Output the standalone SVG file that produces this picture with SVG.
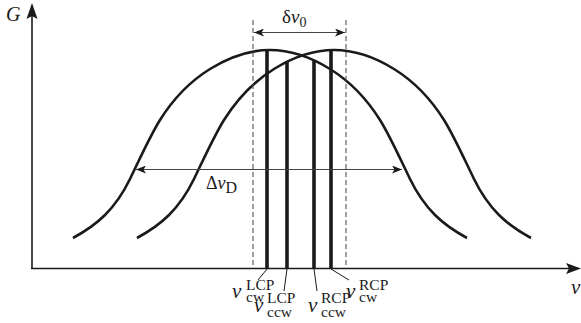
<svg xmlns="http://www.w3.org/2000/svg" width="581" height="323" viewBox="0 0 581 323">
<style>
.axis{stroke:#1a1a1a;stroke-width:1.6;fill:none}
.curve{stroke:#1a1a1a;stroke-width:2.6;fill:none}
.bar{stroke:#1a1a1a;stroke-width:3.6}
.dash{stroke:#555;stroke-width:1.1;stroke-dasharray:5,3;fill:none}
.dim{stroke:#444;stroke-width:1.1;fill:none}
.lead{stroke:#1a1a1a;stroke-width:1;fill:none}
.t{font-family:"Liberation Serif","Times New Roman",serif;fill:#1a1a1a}
.it{font-style:italic}
.nu{font-style:italic;font-size:21px}
.sc{font-size:15.5px}
</style>
<defs>
<path id="gauss" d="M -197 238 C -186.33 232.13 -175.67 225.67 -165 215 C -156.67 206.67 -148.33 196.08 -140 179 C -130 158.5 -120 136 -110 120 C -93.33 93.33 -76.67 79.33 -60 69 C -40 56.6 -20 50 0 50 C 20 50 40 56.6 60 69 C 76.67 79.33 93.33 93.33 110 120 C 120 136 130 158.5 140 179 C 148.33 196.08 156.67 206.67 165 215 C 175.67 225.67 186.33 232.13 197 238"/>
<marker id="ah" viewBox="0 0 10 8" refX="10" refY="4" markerWidth="10" markerHeight="8" markerUnits="userSpaceOnUse" orient="auto-start-reverse">
<path d="M0 0 L10 4 L0 8 L2.5 4 Z" fill="#1a1a1a"/>
</marker>
</defs>

<g id="axes">
<line class="axis" x1="32" y1="268.5" x2="32" y2="14"/>
<path d="M32 3 L26.5 19 L32 16 L37.5 19 Z" fill="#1a1a1a"/>
<line class="axis" x1="31" y1="268.5" x2="570" y2="268.5"/>
<path d="M581 268.5 L566 263 L569 268.5 L566 274 Z" fill="#1a1a1a"/>
<text class="t it" x="6" y="21" font-size="20">G</text>
<text class="t it" x="571" y="294" font-size="21">ν</text>
</g>

<g id="curve-left"><use href="#gauss" class="curve" transform="translate(270,0)"/></g>
<g id="curve-right"><use href="#gauss" class="curve" transform="translate(334,0)"/></g>

<g id="dashed">
<line class="dash" x1="253" y1="20" x2="253" y2="268"/>
<line class="dash" x1="346" y1="20" x2="346" y2="268"/>
</g>

<g id="bars">
<line class="bar" x1="267" y1="50" x2="267" y2="269"/>
<line class="bar" x1="287" y1="61.5" x2="287" y2="269"/>
<line class="bar" x1="314" y1="61" x2="314" y2="269"/>
<line class="bar" x1="331" y1="50" x2="331" y2="269"/>
</g>

<g id="connectors">
<line class="dim" x1="254" y1="32.5" x2="345" y2="32.5" marker-start="url(#ah)" marker-end="url(#ah)"/>
<line class="dim" x1="136" y1="169.5" x2="402" y2="169.5" marker-start="url(#ah)" marker-end="url(#ah)"/>
<line class="lead" x1="267" y1="269" x2="258" y2="280"/>
<line class="lead" x1="287" y1="269" x2="284" y2="291"/>
<line class="lead" x1="314" y1="269" x2="317" y2="291"/>
<line class="lead" x1="331" y1="269" x2="349" y2="280"/>
</g>

<g id="label-dnu0">
<text class="t" x="282" y="23" font-size="19">δ<tspan class="it">ν</tspan><tspan font-size="14" dy="4">0</tspan></text>
</g>
<g id="label-dnuD">
<text class="t" x="206" y="188.5" font-size="18">Δ<tspan class="it">ν</tspan><tspan font-size="16" dy="4.5">D</tspan></text>
</g>

<g id="label-cw-lcp">
<text class="t nu" x="232" y="298">ν</text>
<text class="t sc" x="246" y="290">LCP</text>
<text class="t sc" x="246" y="302">cw</text>
</g>
<g id="label-ccw-lcp">
<text class="t nu" x="254" y="312">ν</text>
<text class="t sc" x="267" y="303">LCP</text>
<text class="t sc" x="267" y="317">ccw</text>
</g>
<g id="label-ccw-rcp">
<text class="t nu" x="308" y="312">ν</text>
<text class="t sc" x="321" y="303">RCP</text>
<text class="t sc" x="321" y="317">ccw</text>
</g>
<g id="label-cw-rcp">
<text class="t nu" x="346" y="298">ν</text>
<text class="t sc" x="359" y="290">RCP</text>
<text class="t sc" x="359" y="302">cw</text>
</g>
</svg>
